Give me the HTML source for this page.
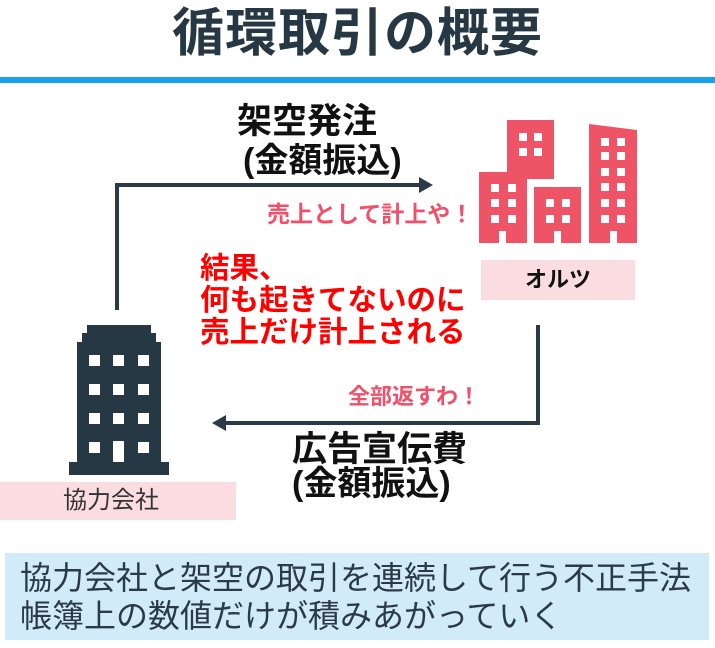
<!DOCTYPE html>
<html><head><meta charset="utf-8"><style>
body{margin:0;width:715px;height:648px;background:#fff;position:relative;overflow:hidden;font-family:"Liberation Sans","Noto Sans CJK JP",sans-serif}
.t{position:absolute;white-space:nowrap;line-height:1}
</style></head><body>
<svg width="715" height="648" style="position:absolute;left:0;top:0">
<rect x="0" y="77" width="715" height="6" fill="#1aa3ec"/>
<g stroke="#2b3a47" stroke-width="4" fill="none">
<polyline points="117,310 117,185 422,185"/>
<polyline points="538,325 538,423 222,423"/>
</g>
<polygon points="433,185 419,177 419,193" fill="#2b3a47"/>
<polygon points="212,423 226,415 226,431" fill="#2b3a47"/>
<g fill="#273845">
<rect x="87" y="325" width="64" height="10"/>
<rect x="82" y="333" width="74" height="10"/>
<rect x="77" y="342" width="84" height="122"/>
<rect x="69" y="462" width="100" height="13"/>
</g>
<g fill="#fff">
<rect x="89" y="355" width="11" height="11"/><rect x="113" y="355" width="11" height="11"/><rect x="138" y="355" width="11" height="11"/>
<rect x="89" y="384" width="11" height="11"/><rect x="113" y="384" width="11" height="11"/><rect x="138" y="384" width="11" height="11"/>
<rect x="89" y="413" width="11" height="11"/><rect x="113" y="413" width="11" height="11"/><rect x="138" y="413" width="11" height="11"/>
<rect x="89" y="442" width="11" height="11"/><rect x="113" y="441" width="11" height="21"/><rect x="138" y="442" width="11" height="11"/>
</g>
<g fill="#ef5366">
<rect x="507" y="120" width="47" height="59"/>
<rect x="479" y="172" width="48" height="71"/>
<rect x="534" y="187" width="47" height="56"/>
<polygon points="589,124 637,130 637,243 589,243"/>
</g>
<g fill="#fff">
<rect x="519" y="133" width="8" height="8"/><rect x="534" y="133" width="8" height="8"/>
<rect x="519" y="148" width="8" height="8"/><rect x="534" y="148" width="8" height="8"/>
<rect x="491" y="184" width="8" height="8"/><rect x="508" y="184" width="8" height="8"/>
<rect x="491" y="199" width="8" height="8"/><rect x="508" y="199" width="8" height="8"/>
<rect x="491" y="215" width="8" height="8"/><rect x="508" y="215" width="8" height="8"/>
<rect x="499" y="231" width="7" height="12"/>
<rect x="546" y="199" width="8" height="8"/><rect x="562" y="199" width="8" height="8"/>
<rect x="546" y="215" width="8" height="8"/><rect x="562" y="215" width="8" height="8"/>
<rect x="554" y="231" width="7" height="12"/>
<rect x="601" y="138" width="8" height="8"/><rect x="617" y="138" width="8" height="8"/>
<rect x="601" y="152" width="8" height="8"/><rect x="617" y="152" width="8" height="8"/>
<rect x="601" y="168" width="8" height="8"/><rect x="617" y="168" width="8" height="8"/>
<rect x="601" y="183" width="8" height="8"/><rect x="617" y="183" width="8" height="8"/>
<rect x="601" y="199" width="8" height="8"/><rect x="617" y="199" width="8" height="8"/>
<rect x="601" y="215" width="8" height="8"/><rect x="617" y="215" width="8" height="8"/>
<rect x="610" y="231" width="7" height="12"/>
</g>
<rect x="481" y="260" width="154" height="40" fill="#fbdde1"/>
<rect x="0" y="482" width="236" height="38" fill="#fbdde1"/>
<rect x="5" y="553" width="704" height="87" fill="#d2ebf8"/>
</svg>
<div class="t" style="left:172px;top:8px;font-size:52px;font-weight:bold;color:#273845;letter-spacing:1px">循環取引の概要</div>
<div class="t" style="left:237px;top:104px;font-size:35px;font-weight:bold;color:#111">架空発注</div>
<div class="t" style="left:243px;top:144px;font-size:34px;font-weight:bold;color:#111">(金額振込)</div>
<div class="t" style="left:267px;top:203px;font-size:23px;font-weight:bold;color:#f0506a">売上として計上や！</div>
<div class="t" style="left:200px;top:253px;font-size:29.5px;font-weight:bold;color:#f00;line-height:32px">結果、<br>何も起きてないのに<br>売上だけ計上される</div>
<div class="t" style="left:481px;top:269px;width:154px;text-align:center;font-size:22px;font-weight:bold;color:#111">オルツ</div>
<div class="t" style="left:348px;top:386px;font-size:22px;font-weight:bold;color:#f0506a">全部返すわ！</div>
<div class="t" style="left:292px;top:432px;font-size:35px;font-weight:bold;color:#111">広告宣伝費</div>
<div class="t" style="left:292px;top:467px;font-size:34px;font-weight:bold;color:#111">(金額振込)</div>
<div class="t" style="left:63px;top:489px;font-size:24px;color:#333">協力会社</div>
<div class="t" style="left:20px;top:559px;font-size:32px;color:#2b3a47;line-height:38px">協力会社と架空の取引を連続して行う不正手法<br>帳簿上の数値だけが積みあがっていく</div>
</body></html>
